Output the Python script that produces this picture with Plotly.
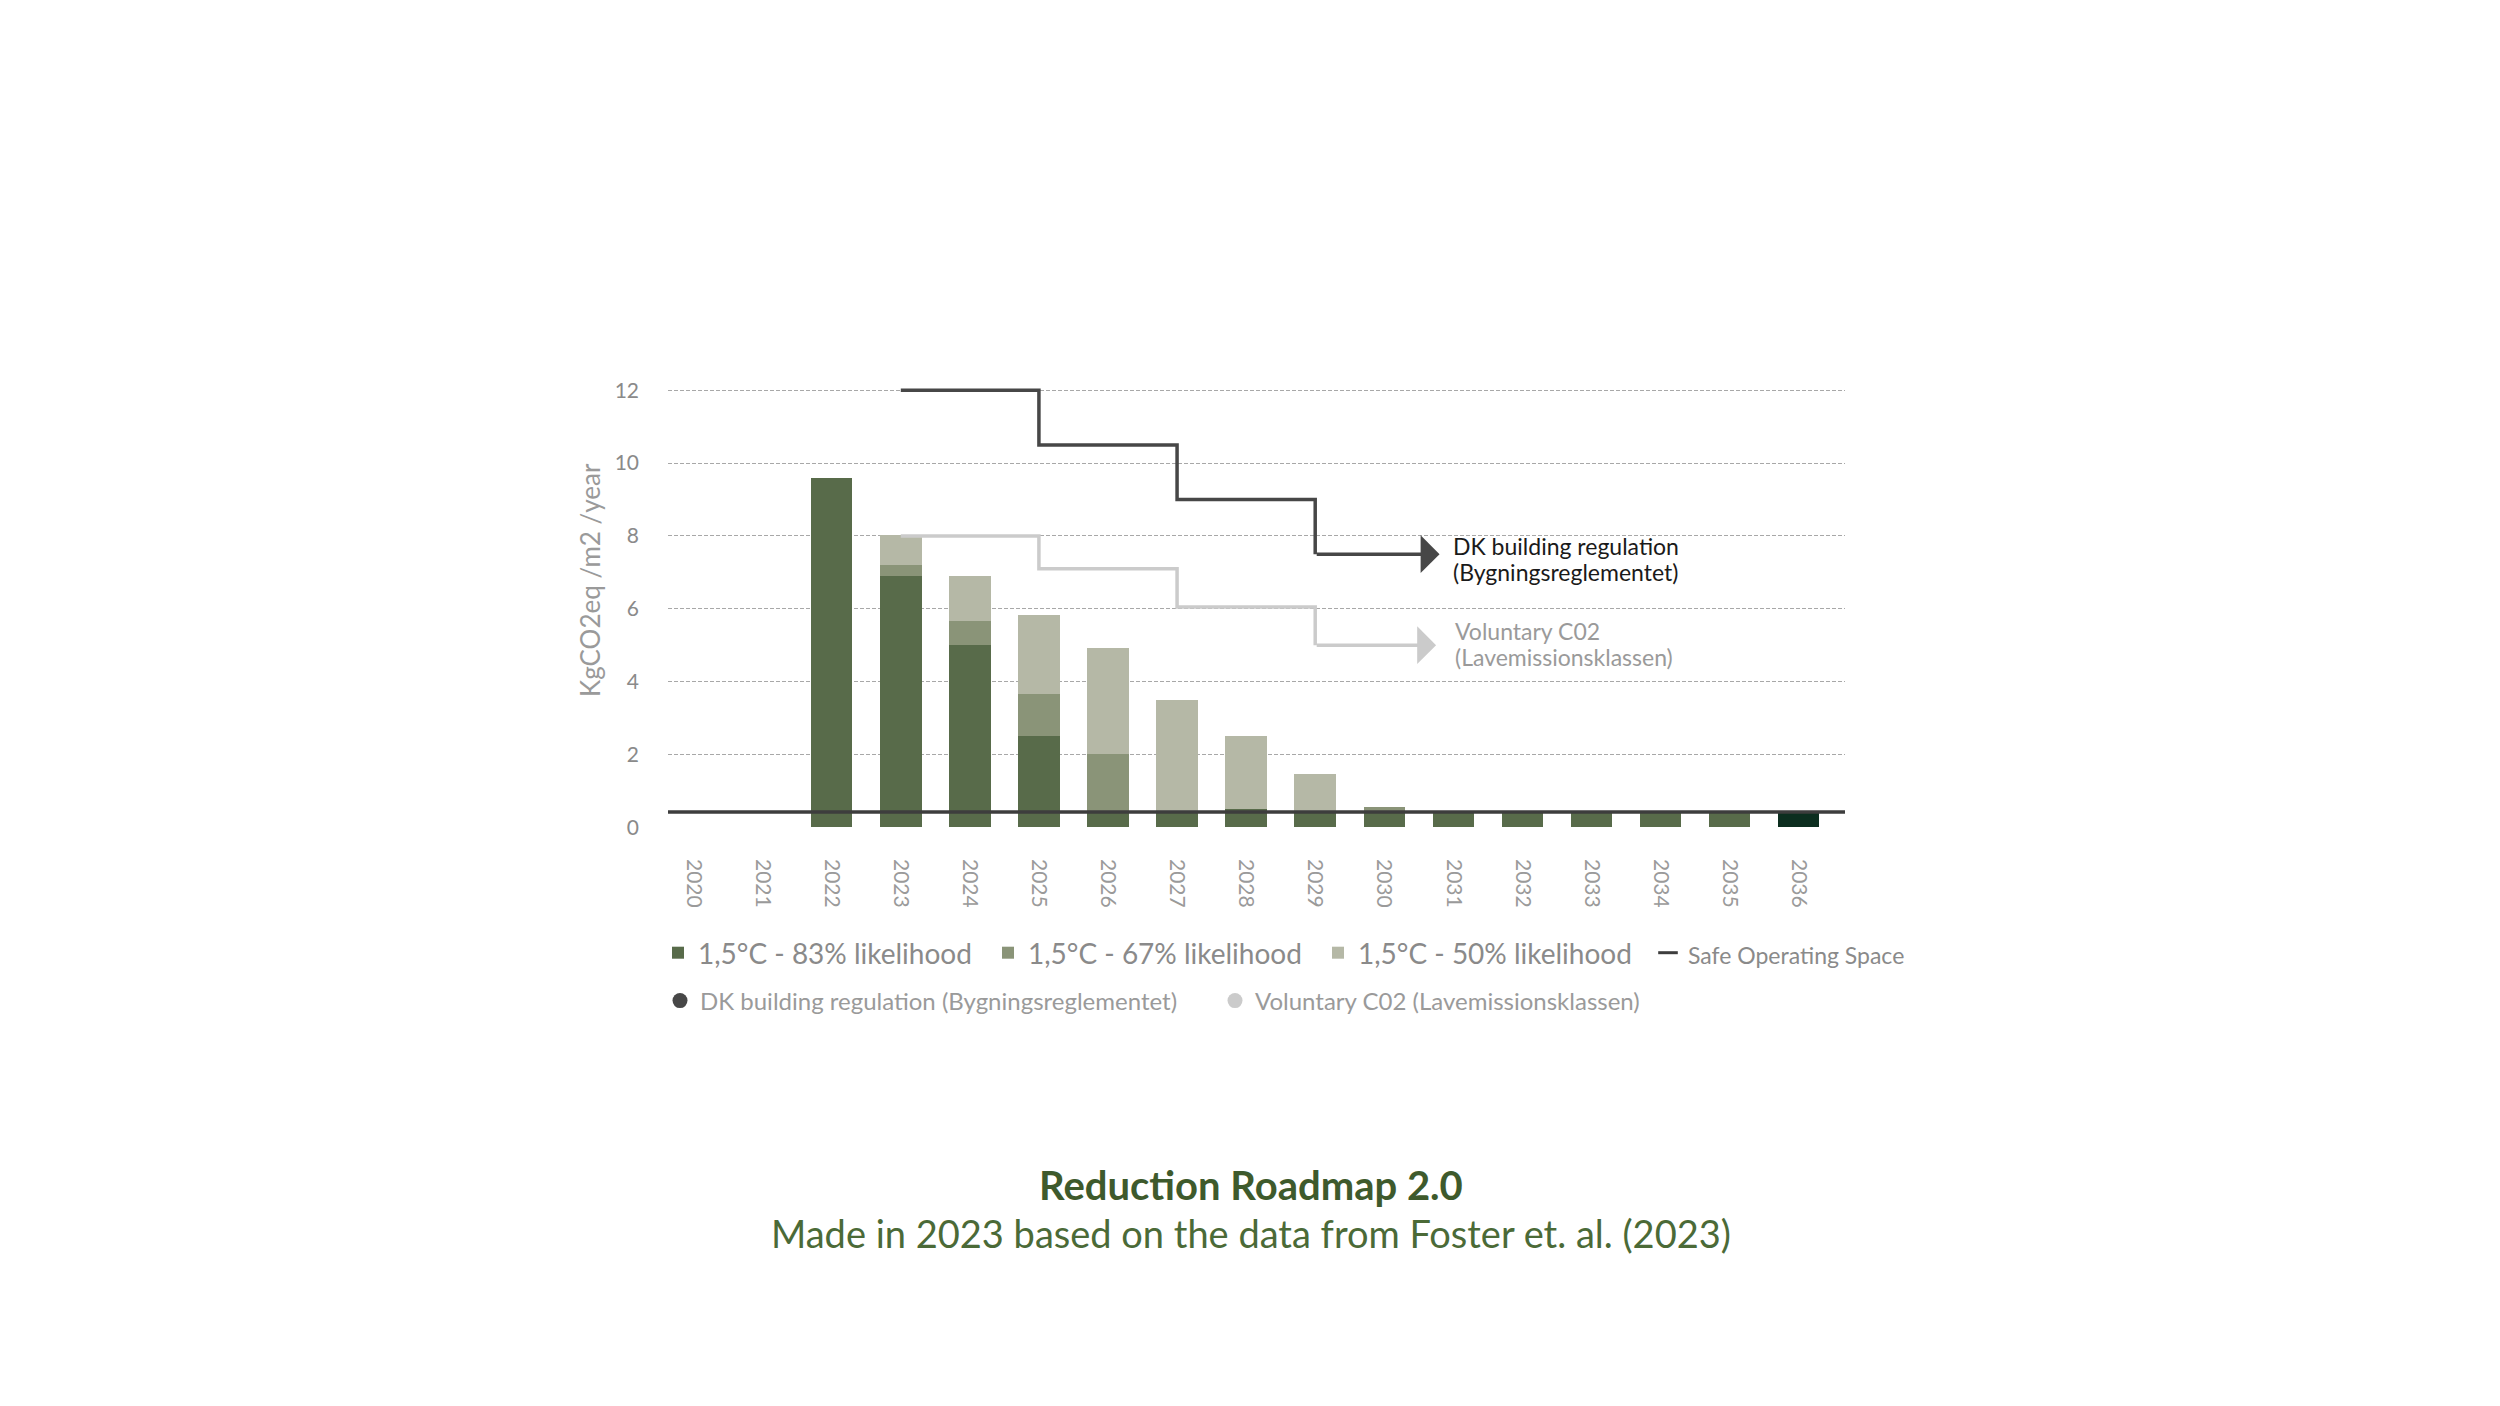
import plotly.graph_objects as go

# ---------------- data ----------------
years = list(range(2020, 2037))

likely_83 = [0, 0, 9.6, 6.9, 5.0, 2.5, 0.4, 0.4, 0.49, 0.4, 0.42, 0.4, 0.4, 0.4, 0.4, 0.4, 0.4]
likely_67 = [0, 0, 0, 0.3, 0.67, 1.15, 1.6, 0, 0, 0, 0.14, 0, 0, 0, 0, 0, 0]
likely_50 = [0, 0, 0, 0.82, 1.22, 2.18, 2.92, 3.09, 2.02, 1.07, 0, 0, 0, 0, 0, 0, 0]

safe_space = 0.42

dk_years = [2023, 2025, 2027, 2029]
dk_values = [12, 10.5, 9, 7.5]
dk_arrow_end = 2030.8

vol_years = [2023, 2025, 2027, 2029]
vol_values = [8, 7.1, 6.05, 5.0]
vol_arrow_end = 2030.75

highlight_year = 2036

# ---------------- style ----------------
FONT = "Lato"
C83 = "#586b4a"
C67 = "#8a9478"
C50 = "#b5b8a6"
C_HL = "#0c2e1f"
DK_COL = "#474747"
VOL_COL = "#cbcbcb"

W, H = 2500, 1406
L, R, T, B = 660, 663, 375, 586
X_RANGE = [2019.63, 2036.67]
Y_RANGE = [-0.02, 12.2]


def px_x(px):
    return (px - L) / (W - L - R)


def px_y(py):
    return (H - B - py) / (H - T - B)


colors83 = [C_HL if yr == highlight_year else C83 for yr in years]

fig = go.Figure()

fig.add_trace(go.Bar(x=years, y=likely_83, width=0.6, marker=dict(color=colors83, line_width=0),
                     name="1,5°C - 83% likelihood"))
fig.add_trace(go.Bar(x=years, y=likely_67, width=0.6, marker=dict(color=C67, line_width=0),
                     name="1,5°C - 67% likelihood"))
fig.add_trace(go.Bar(x=years, y=likely_50, width=0.6, marker=dict(color=C50, line_width=0),
                     name="1,5°C - 50% likelihood"))

# safe operating space line across the plot
fig.add_trace(go.Scatter(x=X_RANGE, y=[safe_space, safe_space], mode="lines",
                         line=dict(color="#3d3d3d", width=3.5), showlegend=False))
fig.add_trace(go.Scatter(x=[None], y=[None], mode="markers",
                         marker=dict(symbol="line-ew", size=14, line=dict(width=3, color="#3d3d3d")),
                         name="<span style='font-size:23px'>Safe Operating Space</span>"))

# step lines
fig.add_trace(go.Scatter(x=vol_years, y=vol_values, mode="lines", line_shape="hv",
                         line=dict(color=VOL_COL, width=3.5), showlegend=False))
fig.add_trace(go.Scatter(x=dk_years, y=dk_values, mode="lines", line_shape="hv",
                         line=dict(color=DK_COL, width=3.5), showlegend=False))

# second legend row
fig.add_trace(go.Scatter(x=[None], y=[None], mode="markers", legend="legend2",
                         marker=dict(symbol="circle", size=15, color=DK_COL),
                         name="DK building regulation (Bygningsreglementet)"))
fig.add_trace(go.Scatter(x=[None], y=[None], mode="markers", legend="legend2",
                         marker=dict(symbol="circle", size=15, color=VOL_COL),
                         name="Voluntary C02 (Lavemissionsklassen)"))

# arrows
fig.add_annotation(x=dk_arrow_end, y=dk_values[-1], ax=dk_years[-1], ay=dk_values[-1],
                   xref="x", yref="y", axref="x", ayref="y", text="", showarrow=True,
                   arrowhead=1, arrowsize=1.8, arrowwidth=3.5, arrowcolor=DK_COL)
fig.add_annotation(x=vol_arrow_end, y=vol_values[-1], ax=vol_years[-1], ay=vol_values[-1],
                   xref="x", yref="y", axref="x", ayref="y", text="", showarrow=True,
                   arrowhead=1, arrowsize=1.8, arrowwidth=3.5, arrowcolor=VOL_COL)

# line labels, one annotation per text line to keep the spacing tight
label_lines = [
    (2030.97, 7.38, ["DK building regulation", "(Bygningsreglementet)"], "#1a1a1a"),
    (2031.0, 5.03, ["Voluntary C02", "(Lavemissionsklassen)"], "#9a9a9a"),
]
for lx, ly, lines, lcol in label_lines:
    for i, line in enumerate(lines):
        fig.add_annotation(x=lx, y=ly, xref="x", yref="y", xanchor="left", yanchor="middle",
                           showarrow=False, text=line, yshift=13 - 26 * i,
                           font=dict(family=FONT, size=23, color=lcol))

# y axis title
fig.add_annotation(x=px_x(582), y=px_y(572), xref="paper", yref="paper", showarrow=False,
                   xanchor="center", yanchor="middle",
                   text="KgCO2eq /m2 /year", textangle=-90,
                   font=dict(family=FONT, size=26, color="#9a9a9a"))

# titles
fig.add_annotation(x=px_x(1243), y=px_y(1177), xref="paper", yref="paper", showarrow=False,
                   xanchor="center", yanchor="middle",
                   text="<b>Reduction Roadmap 2.0</b>",
                   font=dict(family=FONT, size=40, color="#3e5a2c"))
fig.add_annotation(x=px_x(1243), y=px_y(1225), xref="paper", yref="paper", showarrow=False,
                   xanchor="center", yanchor="middle",
                   text="Made in 2023 based on the data from Foster et. al. (2023)",
                   font=dict(family=FONT, size=38, color="#4b6a37"))

fig.update_layout(
    width=W, height=H,
    margin=dict(l=L, r=R, t=T, b=B),
    paper_bgcolor="white", plot_bgcolor="white",
    barmode="stack",
    font=dict(family=FONT, color="#8a8a8a"),
    xaxis=dict(range=X_RANGE, tickmode="array", tickvals=years, ticktext=[str(y) for y in years],
               tickangle=90, showgrid=False, zeroline=False, showline=False,
               ticks="", ticklabelstandoff=30,
               tickfont=dict(family=FONT, size=21, color="#9a9a9a")),
    yaxis=dict(range=Y_RANGE, tick0=0, dtick=2, showgrid=True, gridcolor="#a8a8a8",
               gridwidth=1.2, griddash="4px,2px", zeroline=False, showline=False,
               ticks="", ticklabelstandoff=28,
               tickfont=dict(family=FONT, size=21, color="#8a8a8a")),
    legend=dict(orientation="h", xref="paper", yref="paper",
                x=px_x(650), y=px_y(945), xanchor="left", yanchor="middle",
                traceorder="normal", bgcolor="rgba(0,0,0,0)", entrywidth=285,
                font=dict(family=FONT, size=28, color="#8a8a8a")),
    legend2=dict(orientation="h", xref="paper", yref="paper",
                 x=px_x(652), y=px_y(993), xanchor="left", yanchor="middle",
                 traceorder="normal", bgcolor="rgba(0,0,0,0)", entrywidth=510,
                 font=dict(family=FONT, size=24, color="#9a9a9a")),
)

fig.write_html("out.html")
